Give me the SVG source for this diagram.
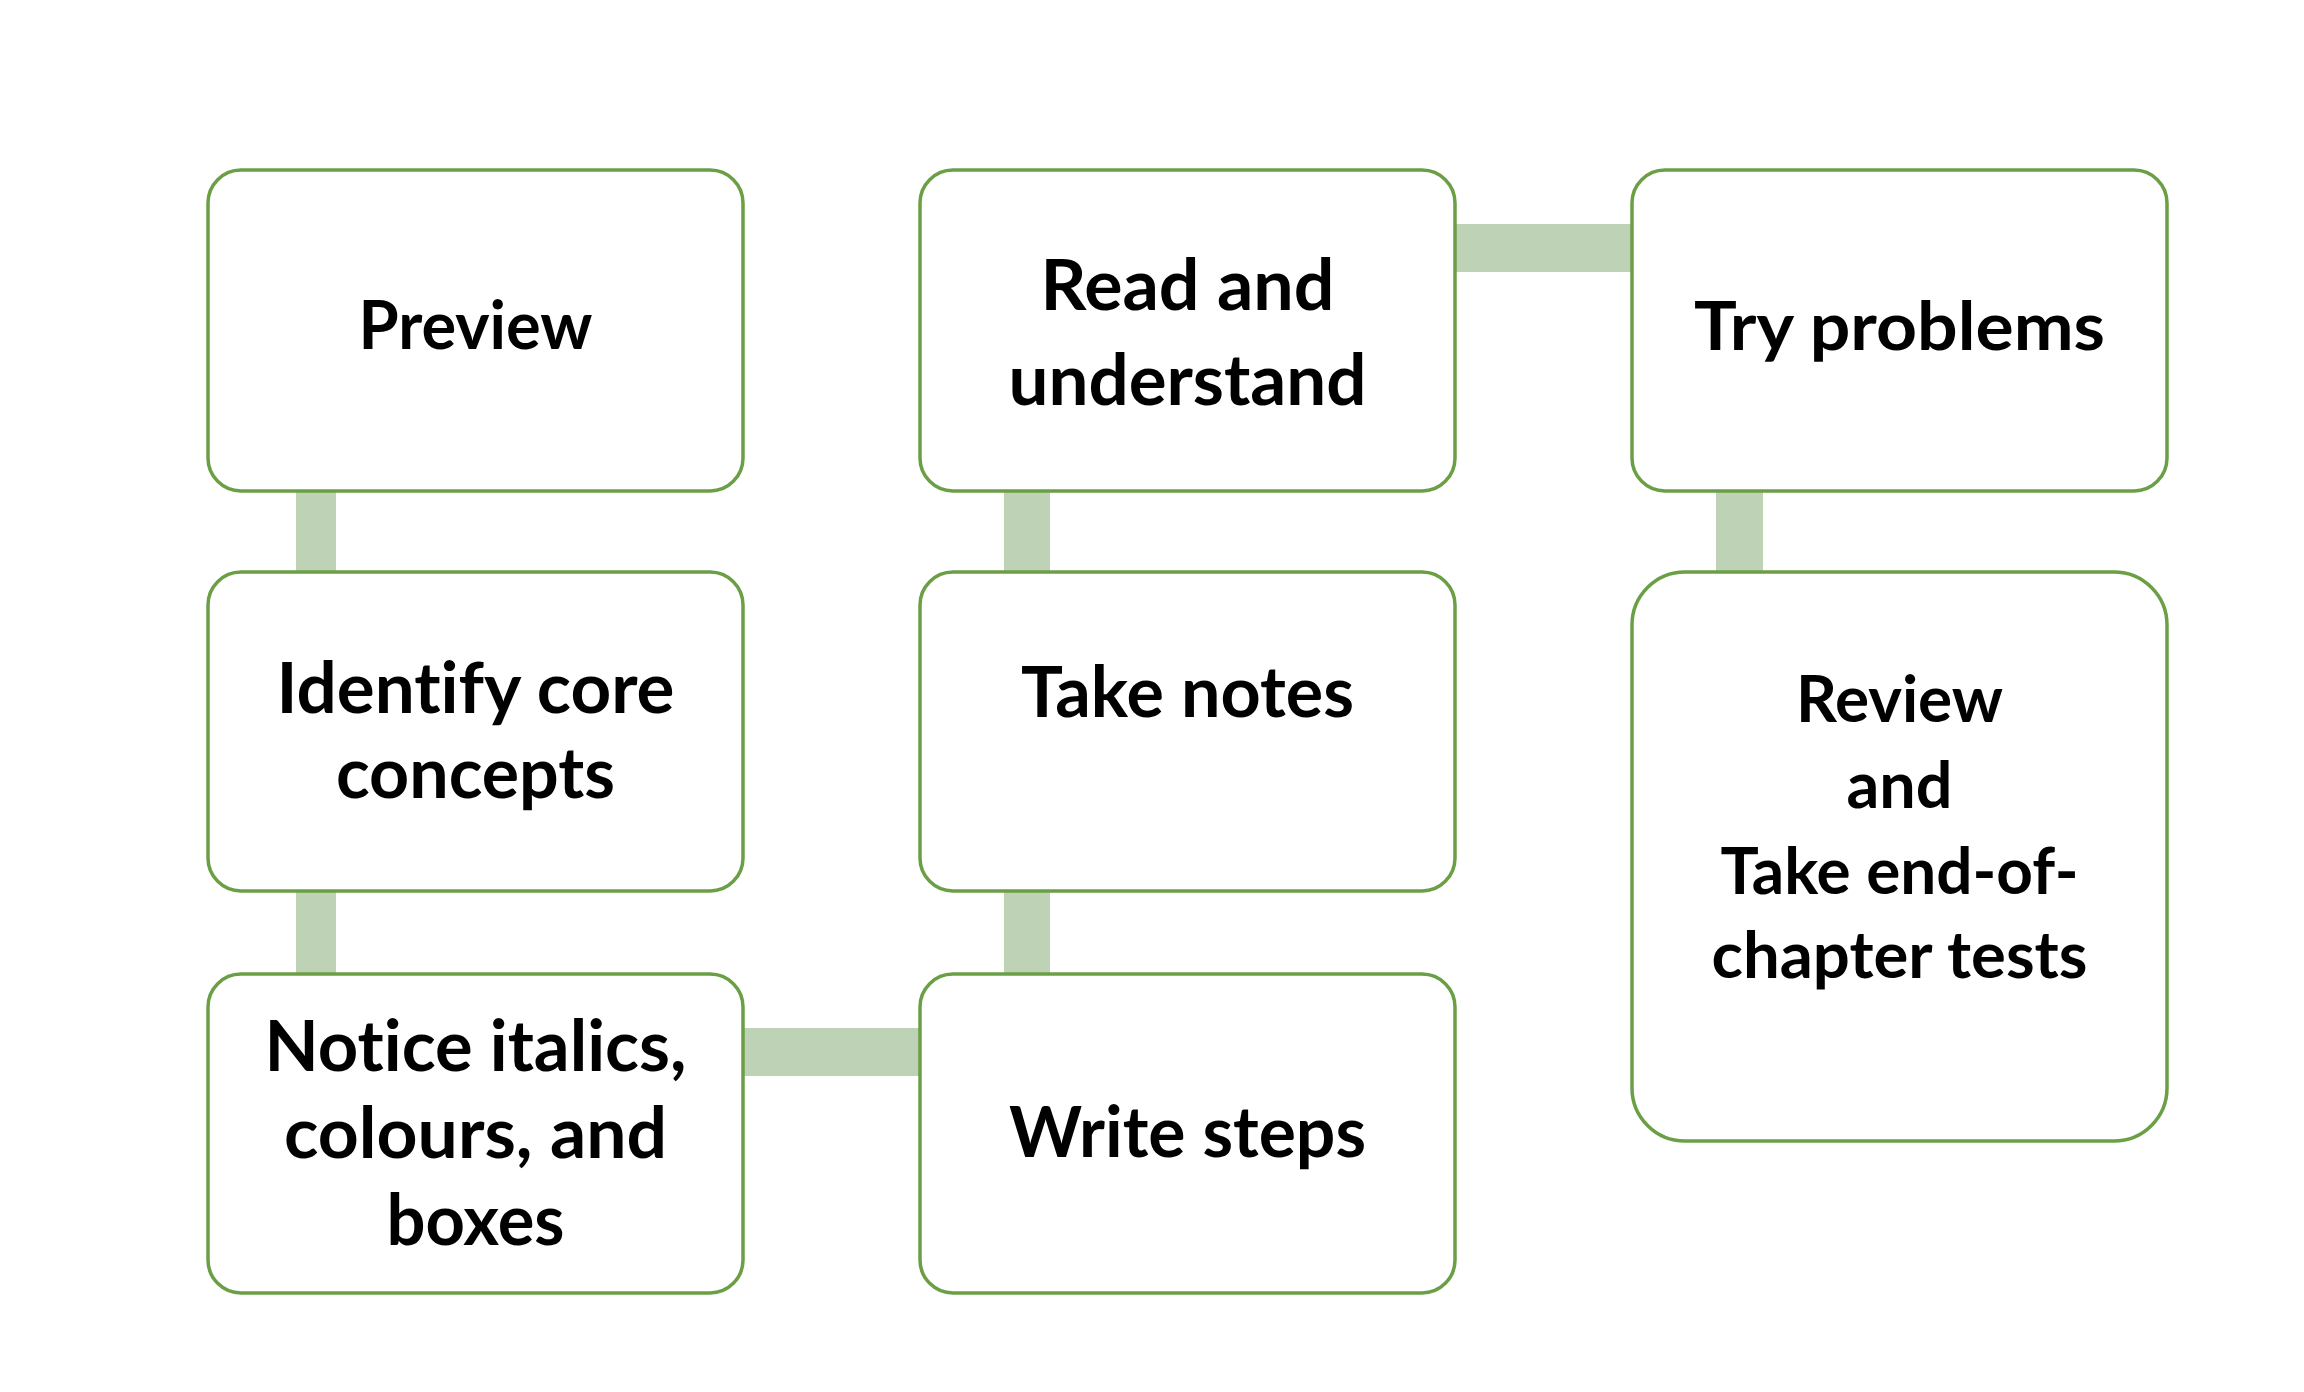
<svg xmlns="http://www.w3.org/2000/svg" width="2304" height="1392" viewBox="0 0 2304 1392">
<style>
.box{fill:#FFFFFF;stroke:#6B9F46;stroke-width:3.5}
.conn{fill:#BED3B5}
.t{font-family:Lato,"Liberation Sans",sans-serif;font-weight:700;font-size:70px;fill:#000000;text-anchor:middle;font-variant-ligatures:none;font-feature-settings:"liga" 0,"clig" 0}
.s{font-size:67px}
.r{font-size:65px}
</style>
<rect width="2304" height="1392" fill="#FFFFFF"/>
<g id="connectors">
<rect class="conn" x="296" y="491" width="40" height="81"/>
<rect class="conn" x="296" y="891" width="40" height="83"/>
<rect class="conn" x="743" y="1028" width="177" height="48"/>
<rect class="conn" x="1004" y="891" width="46" height="83"/>
<rect class="conn" x="1004" y="491" width="46" height="81"/>
<rect class="conn" x="1455" y="224" width="177" height="48"/>
<rect class="conn" x="1716" y="491" width="47" height="81"/>
</g>
<g id="preview">
<rect class="box" x="208" y="170" width="535" height="321" rx="33"/>
<text class="t s" x="475.5" y="349" textLength="234" lengthAdjust="spacingAndGlyphs">Preview</text>
</g>
<g id="identify">
<rect class="box" x="208" y="572" width="535" height="319" rx="33"/>
<text class="t" x="475.5" y="713" textLength="398" lengthAdjust="spacingAndGlyphs">Identify core</text>
<text class="t" x="475.5" y="798" textLength="279" lengthAdjust="spacingAndGlyphs">concepts</text>
</g>
<g id="notice">
<rect class="box" x="208" y="974" width="535" height="319" rx="33"/>
<text class="t" x="475.5" y="1071" textLength="422" lengthAdjust="spacingAndGlyphs">Notice italics,</text>
<text class="t" x="475.5" y="1158" textLength="383" lengthAdjust="spacingAndGlyphs">colours, and</text>
<text class="t" x="475.5" y="1245" textLength="178" lengthAdjust="spacingAndGlyphs">boxes</text>
</g>
<g id="write">
<rect class="box" x="920" y="974" width="535" height="319" rx="33"/>
<text class="t" x="1187.5" y="1157" textLength="357" lengthAdjust="spacingAndGlyphs">Write steps</text>
</g>
<g id="notes">
<rect class="box" x="920" y="572" width="535" height="319" rx="33"/>
<text class="t" x="1187.5" y="717" textLength="333" lengthAdjust="spacingAndGlyphs">Take notes</text>
</g>
<g id="read">
<rect class="box" x="920" y="170" width="535" height="321" rx="33"/>
<text class="t" x="1187.5" y="310" textLength="294" lengthAdjust="spacingAndGlyphs">Read and</text>
<text class="t" x="1187.5" y="405" textLength="358" lengthAdjust="spacingAndGlyphs">understand</text>
</g>
<g id="try">
<rect class="box" x="1632" y="170" width="535" height="321" rx="33"/>
<text class="t s" x="1899.5" y="350" textLength="411" lengthAdjust="spacingAndGlyphs">Try problems</text>
</g>
<g id="review">
<rect class="box" x="1632" y="572" width="535" height="569" rx="53"/>
<text class="t r" x="1899.5" y="722" textLength="207" lengthAdjust="spacingAndGlyphs">Review</text>
<text class="t r" x="1899.5" y="808" textLength="106" lengthAdjust="spacingAndGlyphs">and</text>
<text class="t r" x="1899.5" y="894" textLength="358" lengthAdjust="spacingAndGlyphs">Take end-of-</text>
<text class="t r" x="1899.5" y="978" textLength="376" lengthAdjust="spacingAndGlyphs">chapter tests</text>
</g>
</svg>
